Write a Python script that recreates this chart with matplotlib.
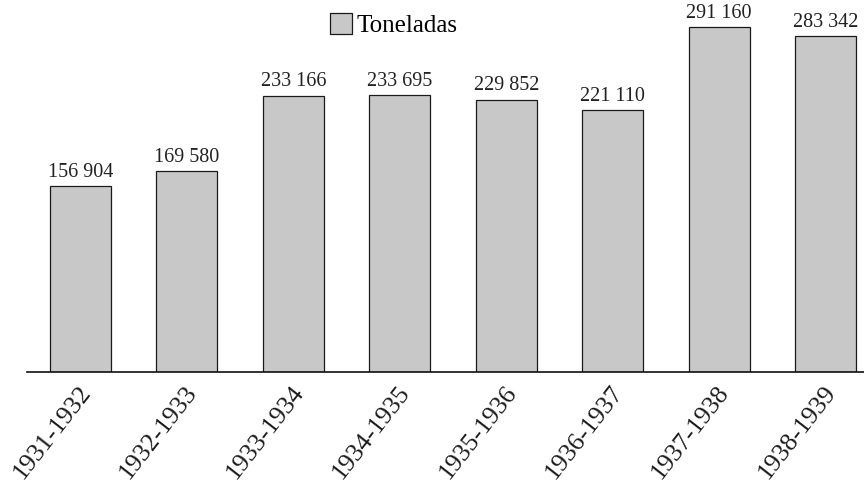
import matplotlib
matplotlib.use("Agg")
import matplotlib.pyplot as plt
import matplotlib.transforms as mtransforms
from matplotlib.patches import Patch

periods = ["1931-1932", "1932-1933", "1933-1934", "1934-1935",
           "1935-1936", "1936-1937", "1937-1938", "1938-1939"]
toneladas = [156904, 169580, 233166, 233695, 229852, 221110, 291160, 283342]
value_labels = ["156 904", "169 580", "233 166", "233 695",
                "229 852", "221 110", "291 160", "283 342"]
series_name = "Toneladas"

plt.rcParams['font.family'] = ['Liberation Serif', 'DejaVu Serif']

fig = plt.figure(figsize=(8.64, 4.84), dpi=100)
ax = fig.add_axes([27/864, 112/484, 1 - 27/864, 1 - 112/484])

x = list(range(len(periods)))
bars = ax.bar(x, toneladas, width=0.573, color="#c8c8c8",
              edgecolor="#1a1a1a", linewidth=0.9)

for rect, lab in zip(bars, value_labels):
    ax.annotate(lab, (rect.get_x() + rect.get_width()/2, rect.get_height()),
                xytext=(0, 3), textcoords="offset points",
                ha="center", va="bottom", fontsize=14.5, color="#222222")

ax.set_xlim(-0.503, 7.362)
ax.set_ylim(0, 313800)

for s in ["top", "right", "left"]:
    ax.spines[s].set_visible(False)
ax.spines["bottom"].set_linewidth(1.2)
ax.spines["bottom"].set_color("#111111")
ax.set_yticks([])
ax.set_xticks(x)
ax.set_xticklabels(periods, rotation=52, rotation_mode="anchor",
                   ha="right", va="center", fontsize=18.5, color="#1a1a1a")
ax.tick_params(axis="x", length=0, pad=12)
offset = mtransforms.ScaledTranslation(6/100, 0, fig.dpi_scale_trans)
for lbl in ax.get_xticklabels():
    lbl.set_transform(lbl.get_transform() + offset)

handle = Patch(facecolor="#c8c8c8", edgecolor="#1a1a1a", linewidth=0.9)
fig.legend([handle], [series_name], loc="center",
           bbox_to_anchor=(393.5/864, 1 - 25/484), frameon=False,
           fontsize=18, handlelength=0.88, handleheight=0.88,
           handletextpad=0.2, borderpad=0)

fig.savefig("out.png", dpi=100)
